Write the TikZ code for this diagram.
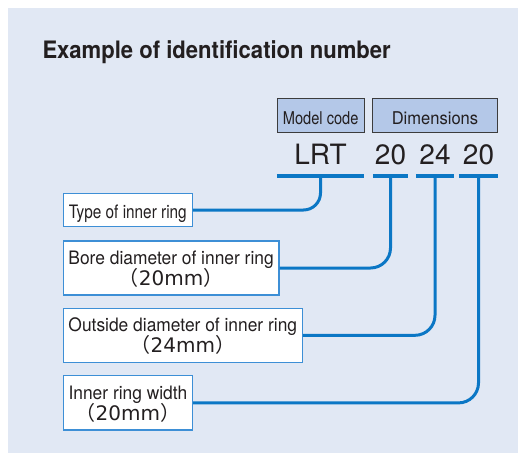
\documentclass[tikz,border=0pt]{standalone}
\usepackage{fontspec}
\setmainfont{TeX Gyre Heros}
\newfontfamily\titlefont{TeX Gyre Heros}[FakeStretch=0.92]
\newfontfamily\boxfont{TeX Gyre Heros}[FakeStretch=0.94]
\newfontfamily\tightfont{TeX Gyre Heros}[FakeStretch=0.83]
\newfontfamily\widefont{DejaVu Sans}
\newfontfamily\cjk{Noto Sans CJK JP}
\definecolor{bgblue}{HTML}{E1E8F4}
\definecolor{tagfill}{HTML}{B4C8E8}
\definecolor{tagedge}{HTML}{3C3C3C}
\definecolor{lineblue}{HTML}{0B77C5}
\definecolor{boxedge}{HTML}{3D8FD6}
\definecolor{inkgray}{HTML}{231F20}
\newcommand{\sizemm}[1]{\vrule width 0pt height 0pt depth 5pt\relax\smash{\fontsize{20}{21}\selectfont\cjk （\widefont #1mm\cjk ）}}
\newcommand{\boxstrut}{\vrule width 0pt height 18.4pt depth 0pt\relax}

\begin{document}
\begin{tikzpicture}[x=1pt,y=-1pt,
  every node/.style={inner sep=0pt,text=inkgray},
  tag/.style={draw=tagedge,fill=tagfill,line width=0.9pt,minimum height=34.4pt,text height=17.6pt,text depth=0pt},
  part/.style={anchor=south,text depth=11pt,font=\fontsize{28}{30}\selectfont},
  bar/.style={draw=lineblue,line width=3.2pt},
  box/.style={draw=boxedge,fill=white,line width=1.2pt,anchor=west,align=center,font=\boxfont\fontsize{18.5}{21}\selectfont},
  link/.style={draw=lineblue,line width=3pt,rounded corners=20pt}]
\useasboundingbox (0,0) rectangle (518,453);
\fill[bgblue] (8,8) rectangle (518,453);

\node[anchor=base west,font=\titlefont\bfseries\fontsize{24}{28}\selectfont] (title) at (42.3,58.5) {Example of identification number};

% header tags
\node[tag,minimum width=86.7pt,font=\tightfont\fontsize{17.6}{20}\selectfont] (model) at (320.7,115.5) {Model code};
\node[tag,minimum width=125.4pt,font=\boxfont\fontsize{17.6}{20}\selectfont] (dims) at (435,115.5) {Dimensions};

% code parts
\node[part,minimum width=87pt] (lrt) at (320.5,176) {LRT};
\node[part,minimum width=35pt] (bore) at (390.5,176) {20};
\node[part,minimum width=38pt] (outer) at (435,176) {24};
\node[part,minimum width=39pt] (width) at (478.5,176) {20};
\draw[bar] (lrt.south west) -- (lrt.south east);
\draw[bar] (bore.south west) -- (bore.south east);
\draw[bar] (outer.south west) -- (outer.south east);
\draw[bar] (width.south west) -- (width.south east);

% explanation boxes
\node[box,minimum width=129pt,minimum height=33.4pt,text height=16.6pt,text depth=0pt,font=\tightfont\fontsize{18.5}{21}\selectfont] (typebox) at (62.7,210) {Type of inner ring};
\node[box,minimum width=215.6pt,minimum height=54pt] (borebox) at (62.7,268) {\boxstrut Bore diameter of inner ring\\ \sizemm{20}};
\node[box,minimum width=239pt,minimum height=54pt] (outbox) at (62.7,335.3) {\boxstrut Outside diameter of inner ring\\ \sizemm{24}};
\node[box,minimum width=129.3pt,minimum height=54.3pt] (widthbox) at (62.7,402.9) {\boxstrut Inner ring width\\ \sizemm{20}};

% connectors
\draw[link,rounded corners=17pt] (lrt.south) |- (typebox.east);
\draw[link] (bore.south) |- (borebox.east);
\draw[link] (outer.south) |- (outbox.east);
\draw[link] (width.south) |- (widthbox.east);
\end{tikzpicture}
\end{document}
